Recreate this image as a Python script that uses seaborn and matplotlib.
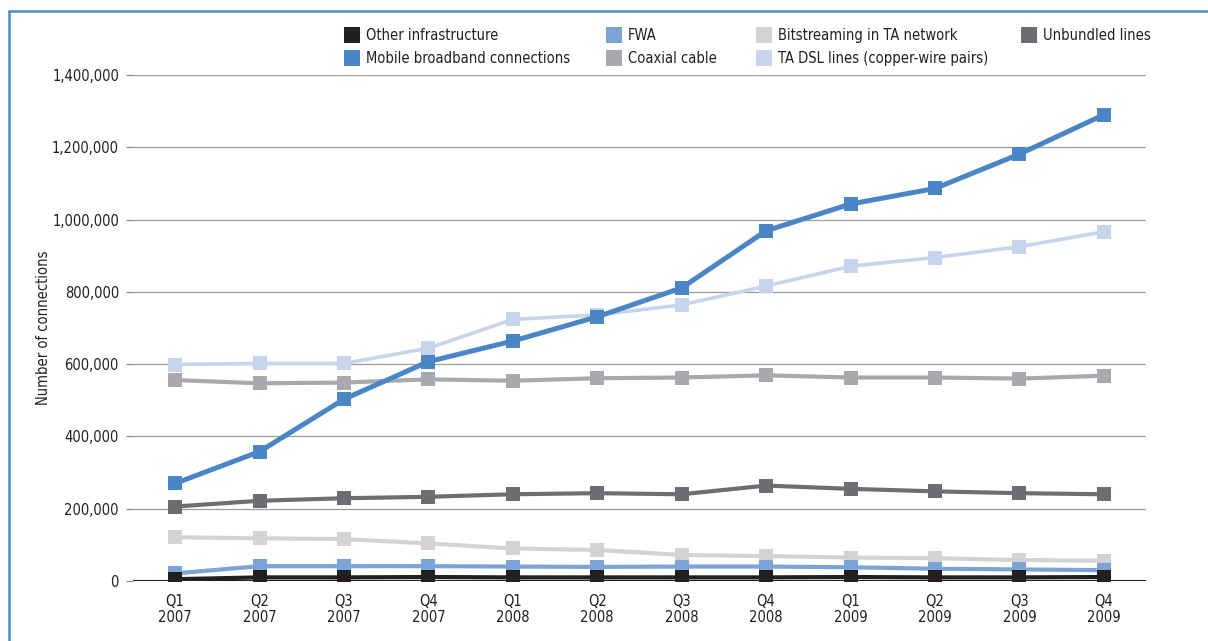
import matplotlib
matplotlib.use("Agg")
import matplotlib.pyplot as plt
from matplotlib import font_manager
from matplotlib.lines import Line2D
import seaborn as sns
import pandas as pd

# Quarterly broadband connections by technology
quarters = ["Q1\n2007", "Q2\n2007", "Q3\n2007", "Q4\n2007",
            "Q1\n2008", "Q2\n2008", "Q3\n2008", "Q4\n2008",
            "Q1\n2009", "Q2\n2009", "Q3\n2009", "Q4\n2009"]

other_infra = [5000, 10000, 10000, 11000, 10000, 10000, 10000, 10000, 11000, 10000, 10000, 11000]
fwa = [21000, 41000, 41000, 41000, 40000, 39000, 40000, 40000, 38000, 34000, 32000, 30000]
bitstreaming = [121000, 118000, 116000, 104000, 90000, 86000, 72000, 69000, 65000, 63000, 58000, 56000]
unbundled = [206000, 222000, 229000, 233000, 240000, 243000, 240000, 264000, 255000, 248000, 243000, 240000]
mobile = [270000, 358000, 503000, 607000, 664000, 731000, 811000, 969000, 1043000, 1086000, 1181000, 1290000]
coaxial = [556000, 547000, 549000, 558000, 554000, 561000, 563000, 569000, 563000, 563000, 560000, 568000]
ta_dsl = [599000, 602000, 602000, 644000, 724000, 736000, 764000, 816000, 871000, 895000, 925000, 966000]

y_ticks = [0, 200000, 400000, 600000, 800000, 1000000, 1200000, 1400000]

sns.set_theme(style="white")
available = {f.name for f in font_manager.fontManager.ttflist}
family = "Liberation Sans Narrow" if "Liberation Sans Narrow" in available else "DejaVu Sans"
plt.rcParams["font.family"] = [family, "DejaVu Sans"]
if family == "DejaVu Sans":
    plt.rcParams["font.stretch"] = "condensed"

TEXT = "#231f20"
FS = 10.5

series = [
    # label, values, colour, line width, draw order
    ("TA DSL lines (copper-wire pairs)", ta_dsl, "#c6d4ec", 2.6, 2),
    ("Coaxial cable", coaxial, "#a7a9ac", 3.0, 3),
    ("Unbundled lines", unbundled, "#6d6e71", 3.0, 4),
    ("Bitstreaming in TA network", bitstreaming, "#d1d3d4", 3.0, 5),
    ("FWA", fwa, "#7ba3d6", 3.0, 6),
    ("Other infrastructure", other_infra, "#231f20", 3.0, 7),
    ("Mobile broadband connections", mobile, "#4a86c5", 3.6, 8),
]

fig = plt.figure(figsize=(12.08, 6.41), dpi=100)
ax = fig.add_axes([0.110, 0.0936, 0.8387, 0.7894])

x = list(range(len(quarters)))
styles = {}
for label, vals, color, lw, z in series:
    df = pd.DataFrame({"q": x, "v": vals})
    sns.lineplot(data=df, x="q", y="v", ax=ax, color=color, linewidth=lw,
                 marker="s", markersize=10, markeredgewidth=0, zorder=z,
                 legend=False)
    styles[label] = color

ax.set_xlim(-0.5, len(quarters) - 0.5)
ax.set_ylim(0, 1400000)
ax.set_yticks(y_ticks)
ax.set_yticklabels([f"{t:,}" for t in y_ticks], fontsize=FS, color=TEXT)
ax.set_xticks(x)
ax.set_xticklabels(quarters, fontsize=FS, color=TEXT, linespacing=1.1)
ax.tick_params(axis="x", length=0, pad=9)
ax.tick_params(axis="y", length=5, width=0.9, color="#8a8a8a", pad=5, left=True)

for t in y_ticks[1:]:
    ax.axhline(t, color="#9d9d9d", linewidth=0.9, zorder=1)
ax.axhline(0, color="#231f20", linewidth=1.5, zorder=1)

for s in ax.spines.values():
    s.set_visible(False)
ax.grid(False)

ax.set_xlabel("")
ax.set_ylabel("Number of connections", fontsize=FS, color=TEXT)
ax.yaxis.set_label_coords(-82 / (0.8387 * 1208), 0.5)

# Legend: four columns placed across the top
columns = [
    (345, ["Other infrastructure", "Mobile broadband connections"]),
    (607, ["FWA", "Coaxial cable"]),
    (757, ["Bitstreaming in TA network", "TA DSL lines (copper-wire pairs)"]),
    (1022, ["Unbundled lines"]),
]
W, H = 1208, 641
for xpix, labels in columns:
    handles = [Line2D([], [], linestyle="none", marker="s", markersize=12,
                      markeredgewidth=0, color=styles[l]) for l in labels]
    leg = fig.legend(handles, labels, loc="upper left",
                     bbox_to_anchor=(xpix / W, 1 - 28 / H),
                     frameon=False, fontsize=FS, borderpad=0, borderaxespad=0,
                     handletextpad=0.45, handlelength=1.0, labelspacing=0.55)
    for txt in leg.get_texts():
        txt.set_color(TEXT)

# Blue frame along the top and left edges
fig.add_artist(Line2D([9 / W, 9 / W], [0, 1 - 11 / H], transform=fig.transFigure,
                      color="#4a8ac8", linewidth=1.8))
fig.add_artist(Line2D([9 / W, 1], [1 - 11 / H, 1 - 11 / H], transform=fig.transFigure,
                      color="#4a8ac8", linewidth=1.8))

fig.savefig("out.png", dpi=100)
